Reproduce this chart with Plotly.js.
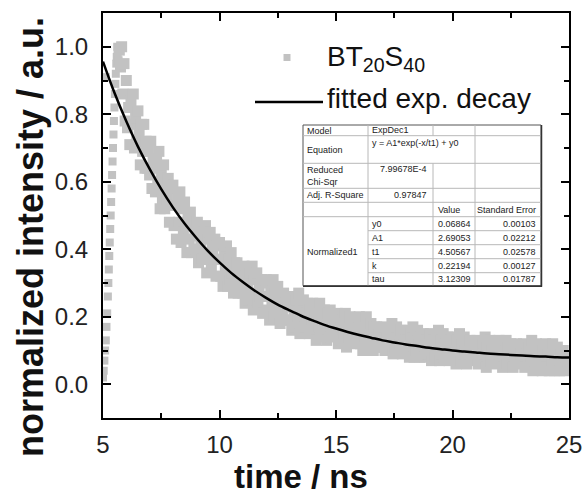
<!DOCTYPE html>
<html><head><meta charset="utf-8">
<script src="https://cdn.plot.ly/plotly-3.0.1.min.js"></script>
<style>html,body{margin:0;padding:0;background:#fff}#chart{width:584px;height:504px}</style>
</head><body><div id="chart"></div>
<script>
// ---------- data ----------
const riseTime = [5.00,5.03,5.06,5.09,5.12,5.15,5.18,5.21,5.23,5.25,5.27,5.29,5.31,5.33,5.35,5.37,5.39,5.41,5.43,5.45,5.47,5.49,5.51,5.53,5.55,5.57,5.59,5.61,5.63,5.65,5.67,5.12];
const riseIntensity = [0.02,0.04,0.07,0.10,0.13,0.17,0.21,0.26,0.30,0.34,0.38,0.42,0.46,0.50,0.54,0.58,0.62,0.66,0.70,0.74,0.78,0.82,0.86,0.89,0.92,0.95,0.97,1.00,0.98,0.99,0.96,0.91];

const decayStart = 5.70;   // ns, first sample of the decay record
const decayStep = 0.05;    // ns, channel width
const decayIntensity = [
0.99,0.94,1.00,0.86,0.95,0.78,
0.90,0.76,0.82,0.71,0.84,0.77,0.86,0.70,0.79,0.72,0.81,0.74,0.65,0.77,0.69,0.77,0.64,0.72,0.64,0.69,
0.62,0.72,0.58,0.66,0.64,0.57,0.67,0.60,0.69,0.52,0.63,0.55,0.65,0.52,0.58,0.55,0.61,0.48,0.58,0.53,
0.59,0.47,0.53,0.43,0.55,0.48,0.57,0.42,0.52,0.45,0.54,0.47,0.39,0.50,0.43,0.51,0.39,0.47,0.40,0.44,
0.40,0.48,0.36,0.44,0.42,0.37,0.45,0.39,0.47,0.33,0.43,0.37,0.45,0.35,0.40,0.37,0.43,0.32,0.41,0.37,
0.42,0.32,0.37,0.29,0.39,0.34,0.41,0.29,0.37,0.31,0.39,0.33,0.27,0.36,0.30,0.36,0.27,0.33,0.28,0.31,
0.27,0.35,0.24,0.32,0.30,0.25,0.33,0.27,0.35,0.22,0.31,0.25,0.33,0.24,0.28,0.26,0.31,0.21,0.30,0.26,
0.31,0.22,0.26,0.19,0.29,0.24,0.31,0.20,0.27,0.22,0.29,0.24,0.18,0.26,0.21,0.27,0.19,0.24,0.19,0.23,
0.19,0.26,0.16,0.23,0.22,0.17,0.25,0.20,0.27,0.15,0.23,0.18,0.25,0.17,0.21,0.19,0.24,0.15,0.22,0.19,
0.24,0.16,0.20,0.13,0.22,0.17,0.24,0.14,0.20,0.16,0.22,0.18,0.13,0.21,0.16,0.22,0.14,0.19,0.15,0.18,
0.15,0.21,0.12,0.18,0.17,0.13,0.19,0.15,0.21,0.11,0.18,0.14,0.20,0.13,0.17,0.15,0.19,0.12,0.18,0.15,
0.20,0.12,0.16,0.10,0.18,0.14,0.20,0.11,0.17,0.13,0.18,0.14,0.10,0.17,0.13,0.17,0.11,0.15,0.11,0.14,
0.11,0.17,0.10,0.15,0.14,0.10,0.16,0.12,0.18,0.09,0.15,0.11,0.17,0.10,0.14,0.12,0.16,0.09,0.15,0.13,
0.16,0.10,0.13,0.08,0.15,0.11,0.17,0.08,0.14,0.10,0.16,0.12,0.08,0.14,0.10,0.15,0.08,0.13,0.09,0.12,
0.09,0.15,0.07,0.13,0.12,0.08,0.14,0.10,0.16,0.07,0.13,0.09,0.15,0.08,0.12,0.10,0.14,0.07,0.13,0.11,
0.14,0.08,0.11,0.06,0.13,0.10,0.15,0.07,0.12,0.09,0.14,0.10,0.06,0.12,0.09,0.13,0.07,0.11,0.08,0.10,
0.08,0.13,0.06,0.11,0.10,0.07,0.12,0.09,0.14,0.05,0.11,0.08,0.13,0.07,0.10,0.09,0.12,0.06,0.12,0.09,
0.13,0.07,0.10,0.05,0.12,0.08,0.13,0.06,0.11,0.07,0.12,0.09,0.05,0.11,0.08,0.12,0.06,0.10,0.07,0.09,
0.07,0.12,0.05,0.10,0.09,0.06,0.11,0.08,0.13,0.04,0.10,0.07,0.12,0.06,0.09,0.08,0.11,0.04,0.10,0.08,
0.12,0.05,0.09,0.04,0.10,0.07,0.12,0.04,0.09,0.06,0.11,0.08,0.04,0.09,0.06,0.10,0.04,0.08,0.05,0.07,
0.07
];

const fitTime = [5.0,5.5,6.0,6.5,7.0,7.5,8.0,8.5,9.0,9.5,10.0,10.5,11.0,11.5,12.0,12.5,13.0,13.5,14.0,14.5,15.0,15.5,16.0,16.5,17.0,17.5,18.0,18.5,19.0,19.5,20.0,20.5,21.0,21.5,22.0,22.5,23.0,23.5,24.0,24.5,25.0];
const fitIntensity = [0.956,0.862,0.779,0.704,0.638,0.578,0.524,0.476,0.434,0.395,0.361,0.330,0.303,0.278,0.256,0.236,0.219,0.203,0.189,0.176,0.165,0.155,0.146,0.138,0.130,0.124,0.118,0.113,0.108,0.104,0.100,0.097,0.094,0.091,0.089,0.087,0.085,0.083,0.082,0.080,0.079];

const xTickVals = [5,10,15,20,25];
const yTickVals = [0.0,0.2,0.4,0.6,0.8,1.0];

const seriesName = 'BT<sub>20</sub>S<sub>40</sub>';
const fitName = 'fitted exp. decay';

// fit report table (text)
const modelName = 'ExpDec1';
const equationText = 'y = A1*exp(-x/t1) + y0';
const chiSqrText = '7.99678E-4';
const adjR2Text = '0.97847';
const paramNames = ['y0','A1','t1','k','tau'];
const paramValues = ['0.06864','2.69053','4.50567','0.22194','3.12309'];
const paramErrors = ['0.00103','0.02212','0.02578','0.00127','0.01787'];

// ---------- layout helpers ----------
const FONT = 'Arial, "Liberation Sans", sans-serif';
const W = 584, H = 504;
const M = {l:103, r:15, t:13, b:86};
const PW = W - M.l - M.r, PH = H - M.t - M.b;
const px = v => (v - M.l) / PW;
const py = v => (H - M.b - v) / PH;

const gray = '#c2c2c2';
const MS = 11;
const traces = [
  {type:'scatter', mode:'markers', x:riseTime, y:riseIntensity, name:seriesName, showlegend:false,
   marker:{symbol:'square', size:8, color:gray}},
  {type:'scatter', mode:'markers', x0:decayStart, dx:decayStep, y:decayIntensity, name:seriesName, showlegend:false,
   marker:{symbol:'square', size:MS, color:gray}},
  {type:'scatter', mode:'lines', x:fitTime, y:fitIntensity, name:fitName, showlegend:false,
   line:{color:'#000', width:2.5, shape:'spline'}}
];

const shapes = [];
const annotations = [];
function hline(x0, x1, y, color, width){
  shapes.push({type:'line', xref:'paper', yref:'paper', x0:px(x0), x1:px(x1), y0:py(y), y1:py(y), line:{color:color, width:width}});
}
function vline(x, y0, y1, color, width){
  shapes.push({type:'line', xref:'paper', yref:'paper', x0:px(x), x1:px(x), y0:py(y0), y1:py(y1), line:{color:color, width:width}});
}
function txt(text, x, y, xanchor, size, extra){
  annotations.push(Object.assign({text:text, xref:'paper', yref:'paper', x:px(x), y:py(y), xanchor:xanchor, yanchor:'middle',
    showarrow:false, font:{family:FONT, size:size, color:'#222'}}, extra||{}));
}

// legend (drawn manually so the line sample matches the original length)
shapes.push({type:'rect', xref:'paper', yref:'paper', x0:px(283.5), x1:px(290.5), y0:py(54), y1:py(61), fillcolor:gray, line:{width:0}});
hline(255, 323, 102, '#000', 2.5);
txt(seriesName, 325, 58, 'left', 28, {font:{family:FONT, size:28, color:'#111'}});
txt(fitName, 325, 98, 'left', 28, {font:{family:FONT, size:28, color:'#111'}});

// fit report table
const tx = [303, 368, 433, 475, 541];
const ty = [125, 135.7, 163.3, 188.3, 202.3, 216.7, 230.7, 244.7, 258.7, 272.7, 285.7];
shapes.push({type:'rect', xref:'paper', yref:'paper', x0:px(tx[0]), x1:px(tx[4]), y0:py(ty[0]), y1:py(ty[10]), fillcolor:'#fff', line:{color:'#555', width:1}});
const lc = '#b8b8b8';
for (let i = 1; i <= 5; i++) hline(tx[0], tx[4], ty[i], lc, 1);
for (let i = 6; i <= 9; i++) hline(tx[1], tx[4], ty[i], lc, 1);
vline(tx[1], ty[0], ty[10], lc, 1);
vline(tx[2], ty[0], ty[1], lc, 1);
vline(tx[2], ty[2], ty[10], lc, 1);
vline(tx[3], ty[0], ty[10], lc, 1);
// shadowed outer edge
vline(tx[4] + 0.5, ty[0], ty[10] + 1, '#333', 1.5);
hline(tx[0], tx[4] + 1, ty[10] + 0.5, '#333', 1.5);

const FS = 9;
txt('Model', tx[0] + 2, 130.5, 'left', FS);
txt(modelName, tx[1] + 2, 130, 'left', FS);
txt('Equation', tx[0] + 2, 150, 'left', FS);
txt(equationText, tx[1] + 2, 143, 'left', FS);
txt('Reduced<br>Chi-Sqr', tx[0] + 2, 175.5, 'left', FS, {align:'left'});
txt(chiSqrText, tx[2] - 4, 168.5, 'right', FS);
txt('Adj. R-Square', tx[0] + 2, 195.3, 'left', FS);
txt(adjR2Text, tx[2] - 4, 195.3, 'right', FS);
txt('Value', tx[2] + 3, 209.5, 'left', FS);
txt('Standard Error', tx[4] - 3, 209.5, 'right', FS);
txt('Normalized1', tx[0] + 2, 251.5, 'left', FS);
for (let i = 0; i < paramNames.length; i++) {
  const yc = (ty[5 + i] + ty[6 + i]) / 2;
  txt(paramNames[i], tx[1] + 2, yc, 'left', FS);
  txt(paramValues[i], tx[2] + 3, yc, 'left', FS);
  txt(paramErrors[i], tx[4] - 3, yc, 'right', FS);
}

// axis titles (placed like the original, off-centre)
annotations.push({text:'<b>time / ns</b>', xref:'paper', yref:'paper', x:px(301), y:py(476), xanchor:'center', yanchor:'middle',
  showarrow:false, font:{family:FONT, size:33, color:'#111'}});
annotations.push({text:'<b>normalized intensity / a.u.</b>', xref:'paper', yref:'paper', x:px(30), y:py(237), xanchor:'center', yanchor:'middle',
  textangle:-90, showarrow:false, font:{family:FONT, size:36, color:'#111'}});

const axisCommon = {
  showline:true, linecolor:'#000', linewidth:2, mirror:'allticks',
  ticks:'inside', ticklen:8, tickwidth:2, tickcolor:'#000',
  showgrid:false, zeroline:false,
  tickfont:{family:FONT, size:24, color:'#222'}
};
const layout = {
  width:W, height:H, margin:M, paper_bgcolor:'#fff', plot_bgcolor:'#fff', showlegend:false,
  xaxis:Object.assign({}, axisCommon, {range:[5,25], tickvals:xTickVals, ticktext:xTickVals.map(String), ticklabelstandoff:4,
    minor:{dtick:2.5, tick0:5, ticks:'inside', ticklen:5, tickwidth:2, tickcolor:'#000'}}),
  yaxis:Object.assign({}, axisCommon, {range:[-0.1,1.1], tickvals:yTickVals, ticktext:yTickVals.map(v => v.toFixed(1)), ticklabelstandoff:8,
    minor:{dtick:0.1, tick0:0, ticks:'inside', ticklen:5, tickwidth:2, tickcolor:'#000'}}),
  shapes:shapes, annotations:annotations
};
Plotly.newPlot('chart', traces, layout, {displayModeBar:false, staticPlot:true});
</script>
</body></html>
